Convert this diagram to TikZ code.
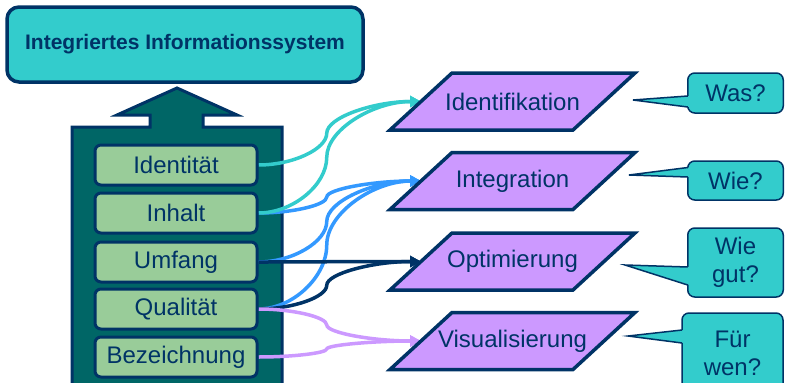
\documentclass[tikz,border=0pt]{standalone}
\usepackage{fontspec}
\setmainfont{Liberation Sans}
\usetikzlibrary{arrows.meta,calc}

\definecolor{navy}{RGB}{0,51,102}
\definecolor{cteal}{RGB}{51,204,204}
\definecolor{darkteal}{RGB}{0,102,102}
\definecolor{lgreen}{RGB}{153,204,153}
\definecolor{lav}{RGB}{204,153,255}
\definecolor{cblue}{RGB}{51,153,255}

\pgfdeclarelayer{back}
\pgfdeclarelayer{mid}
\pgfdeclarelayer{shapes}
\pgfsetlayers{back,mid,shapes,main}

\tikzset{
  txt/.style={font=\fontsize{24}{28}\selectfont, text=navy},
  titlebox/.style={draw=navy, line width=3.5pt, fill=cteal, rounded corners=12pt,
    minimum width=356pt, minimum height=75pt, inner sep=0pt, text=navy,
    font=\bfseries\fontsize{21}{25}\selectfont},
  bodyarrow/.style={draw=navy, line width=3pt, fill=darkteal},
  attrbox/.style={txt, draw=navy, line width=3pt, fill=lgreen, rounded corners=6pt,
    minimum width=162pt, minimum height=40pt, inner sep=0pt},
  % step node: the inner rectangle of a parallelogram slanted by 31pt at each side
  stepnode/.style={txt, minimum width=183pt, minimum height=57pt, inner sep=0pt, outer sep=0pt},
  stepshape/.style={draw=navy, line width=3.5pt, fill=lav, line join=miter},
  callbox/.style={txt, draw=navy, line width=1.5pt, fill=cteal, rounded corners=7pt,
    inner sep=0pt, outer sep=0pt, align=center},
  callline/.style={draw=navy, line width=1.5pt, line join=miter},
  conn/.style={line width=3.5pt, draw=#1, -{Triangle[length=11pt,width=11pt]}},
  sconn/.style={to path={let \p1=(\tikztostart), \p2=(\tikztotarget),
      \n1={\x1+0.42*(\x2-\x1)} in
      .. controls ({(\x1+\n1)/2},\y1) and (\n1,{\y1+(\y2-\y1)/4})
      .. (\n1,{(\y1+\y2)/2})
      .. controls (\n1,{\y1+3*(\y2-\y1)/4}) and ({(\n1+\x2)/2},\y2)
      .. (\tikztotarget)}}
}

\newcommand{\stepoutline}[1]{%
  \draw[stepshape] ($(#1.south west)+(-31,0)$) -- ($(#1.south east)+(-31,0)$)
    -- ($(#1.north east)+(31,0)$) -- ($(#1.north west)+(31,0)$) -- cycle;}

\begin{document}
\begin{tikzpicture}[x=1pt,y=-1pt]
\clip (0,0) rectangle (785,383);
\begin{pgfonlayer}{back}
\fill[white] (0,0) rectangle (785,383);
% broad upward arrow carrying the attributes
\draw[bodyarrow] (72,395) -- (72,127) -- (150,127) -- (150,115) -- (117,115)
  -- (177,88) -- (237,115) -- (203,115) -- (203,127) -- (282,127) -- (282,395) -- cycle;
\end{pgfonlayer}

% system box on top
\node[titlebox] (sys) at (185,44.5) {Integriertes Informationssystem};

% attributes
\node[attrbox] (ident)  at (176,165) {Identität};
\node[attrbox] (inhalt) at (176,213) {Inhalt};
\node[attrbox] (umfang) at (176,262) {Umfang};
\node[attrbox] (qual)   at (176,309) {Qualität};
\node[attrbox] (bez)    at (176,357) {Bezeichnung};

% process steps
\node[stepnode] (idf)   at (512.5,101.5) {Identifikation};
\node[stepnode] (integ) at (512.5,181)   {Integration};
\node[stepnode] (opt)   at (512.5,261.5) {Optimierung};
\node[stepnode] (vis)   at (512.5,341)   {Visualisierung};
\begin{pgfonlayer}{shapes}
\stepoutline{idf}
\stepoutline{integ}
\stepoutline{opt}
\stepoutline{vis}
\end{pgfonlayer}

% connectors attribute -> step, kept beneath the steps
\begin{pgfonlayer}{mid}
\draw[conn=cblue] (inhalt.east) to[sconn] (integ.west);
\draw[conn=cblue] (umfang.east) to[sconn] (integ.west);
\draw[conn=cblue] (qual.east) to[sconn] (integ.west);
\draw[conn=cteal] (ident.east) to[sconn] (idf.west);
\draw[conn=cteal] (inhalt.east) to[sconn] (idf.west);
\draw[conn=navy] (umfang.east) to[sconn] (opt.west);
\draw[conn=navy] (qual.east) to[sconn] (opt.west);
\draw[conn=lav] (qual.east) to[sconn] (vis.west);
\draw[conn=lav] (bez.east) to[sconn] (vis.west);
\end{pgfonlayer}

% question callouts
\node[callbox, minimum width=95.5pt, minimum height=40pt] (was) at (735.5,93) {Was?};
\node[callbox, minimum width=95.5pt, minimum height=39pt] (wie) at (735.5,180.5) {Wie?};
\node[callbox, minimum width=95.5pt, minimum height=69pt] (gut) at (735.5,262.5) {Wie\\gut?};
\node[callbox, minimum width=101pt, minimum height=80pt] (wen) at (732.5,353) {Für\\wen?};

\coordinate (wastip) at (633,100);
\coordinate (wietip) at (629,175);
\coordinate (guttip) at (625,265);
\coordinate (wentip) at (628,336);

\fill[cteal] ($(was.west)+(2,3)$) -- (wastip) -- ($(was.west)+(2,14)$) -- cycle;
\draw[callline] ($(was.west)+(0,3)$) -- (wastip) -- ($(was.west)+(0,14)$);
\fill[cteal] ($(wie.west)+(2,-13)$) -- (wietip) -- ($(wie.west)+(2,-3.5)$) -- cycle;
\draw[callline] ($(wie.west)+(0,-13)$) -- (wietip) -- ($(wie.west)+(0,-3.5)$);
\fill[cteal] ($(gut.west)+(2,4.5)$) -- (guttip) -- ($(gut.west)+(2,22.5)$) -- cycle;
\draw[callline] ($(gut.west)+(0,4.5)$) -- (guttip) -- ($(gut.west)+(0,22.5)$);
\fill[cteal] ($(wen.west)+(2,-23)$) -- (wentip) -- ($(wen.west)+(2,-10)$) -- cycle;
\draw[callline] ($(wen.west)+(0,-23)$) -- (wentip) -- ($(wen.west)+(0,-10)$);
\end{tikzpicture}
\end{document}
